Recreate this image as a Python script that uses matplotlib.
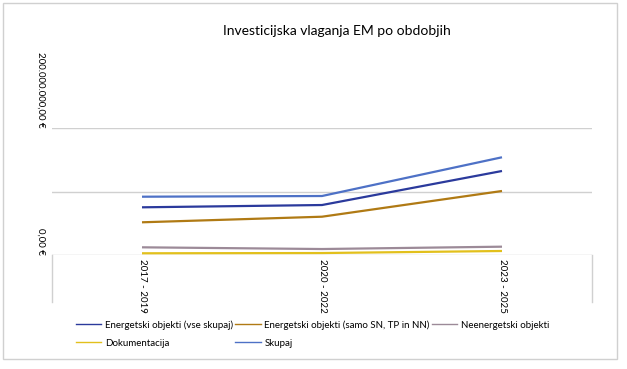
import matplotlib
matplotlib.use('Agg')
import matplotlib.pyplot as plt
from matplotlib.lines import Line2D
from matplotlib.patches import Rectangle

# values (EUR)
periods = ['2017 - 2019', '2020 - 2022', '2023 - 2025']
energetski_vse = [75.1e6, 78.7e6, 132.3e6]
energetski_sn = [51.5e6, 60.3e6, 100.8e6]
neenergetski = [12.1e6, 9.4e6, 13.1e6]
dokumentacija = [2.7e6, 3.1e6, 6.3e6]
skupaj = [91.8e6, 92.9e6, 153.9e6]

series_names = ['Energetski objekti (vse skupaj)', 'Energetski objekti (samo SN, TP in NN)',
                'Neenergetski objekti', 'Dokumentacija', 'Skupaj']
series_vals = [energetski_vse, energetski_sn, neenergetski, dokumentacija, skupaj]
colors = ['#2B3A9C', '#B07A14', '#9C8A98', '#E2C01C', '#4E71C6']

y_ticks = [0, 100e6, 200e6]
y_labels = ['0,00 €', '', '200.000.000,00 €']

plt.rcParams['font.family'] = ['Lato', 'DejaVu Sans']

W, H = 627, 369
fig = plt.figure(figsize=(W/100, H/100), dpi=100)

def fx(px):
    return px / W

def fy(py):
    return 1 - py / H

# outer chart border
fig.patches.append(Rectangle((fx(3), fy(359)), fx(614), 356/H, transform=fig.transFigure,
                             fill=False, edgecolor='#D0D0D0', lw=1))

ax = fig.add_axes([fx(52), fy(255), fx(540), (255-128)/H])
x = list(range(len(periods)))
for name, vals, c in zip(series_names, series_vals, colors):
    ax.plot(x, vals, color=c, lw=1.6, label=name, solid_capstyle='butt')

ax.set_xlim(-0.5, 2.5)
ax.set_ylim(0, 200e6)
for s in ax.spines.values():
    s.set_visible(False)
ax.set_yticks(y_ticks)
ax.set_yticklabels(y_labels, fontsize=7, rotation=-90, rotation_mode='anchor',
                   ha='right', va='center')
ax.tick_params(axis='y', length=0, pad=8)
ax.set_xticks(x)
ax.set_xticklabels(periods, fontsize=7, rotation=-90, ha='center', va='top')
ax.tick_params(axis='x', length=0, pad=3)
ax.yaxis.grid(True, color='#D0D0D0', lw=1)
ax.set_axisbelow(True)

# side lines of the category label box
for px in (52, 592):
    fig.add_artist(Line2D([fx(px), fx(px)], [fy(255), fy(302)], transform=fig.transFigure,
                          color='#D0D0D0', lw=1))

fig.text(fx(337), fy(31), 'Investicijska vlaganja EM po obdobjih', ha='center', va='center',
         fontsize=10)

# legend with thin sample lines, filled row by row
handles = [Line2D([], [], color=c, lw=1) for c in colors]
order = [0, 3, 1, 4, 2]
fig.legend([handles[i] for i in order], [series_names[i] for i in order], ncol=3,
           loc='upper left', bbox_to_anchor=(fx(76), fy(320)), frameon=False, fontsize=7,
           handlelength=2.6, handletextpad=0.4, columnspacing=0.2, labelspacing=0.95,
           borderaxespad=0, borderpad=0)

fig.savefig('out.png', dpi=100)
